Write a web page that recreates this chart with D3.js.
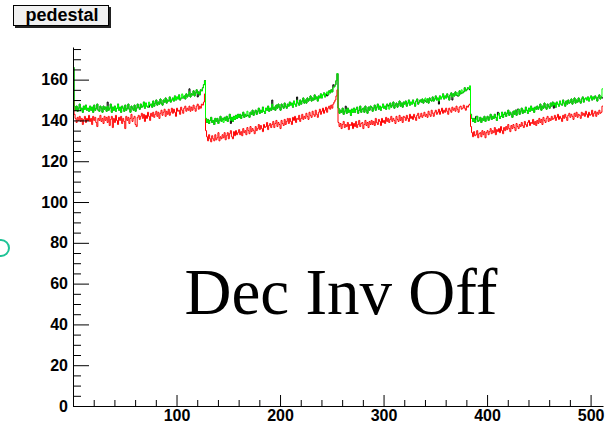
<!DOCTYPE html>
<html>
<head>
<meta charset="utf-8">
<script src="https://cdn.jsdelivr.net/npm/d3@7"></script>
<style>
  html, body { margin: 0; padding: 0; background: #fff; }
  svg { display: block; }
</style>
</head>
<body>
<svg id="chart" width="606" height="427"></svg>
<script>
// chart data (512 bins, 4 blocks of 128)
const title = 'pedestal'
const note = 'Dec Inv Off'
const nBins = 512
const yTicks = [0, 20, 40, 60, 80, 100, 120, 140, 160]
const xTicks = [100, 200, 300, 400, 500]

const green = [
  166,147,145,147,144.5,146,148,145,146,144,147,145.5,147.5,145,146,144.5,
  147,145,146.5,144,147.5,145,146,148,145,144.5,147,146,144,147,145.5,146.5,
  144.5,147,145,146,148,144,146.5,145,147,144.5,146,148,145,146.5,144,147,
  146,144.5,147.5,145,146,148,145.5,144,147,146,145,147.5,144.5,146,148,146.5,
  145.5,148,146.5,147,149,146,148.5,147,146.5,149,147.5,148,146.5,149.5,147,148.5,
  150,147.5,149,148,150.5,148.5,147.5,150,149,151,148.5,150,149.5,151.5,149,150,
  151,149.5,152,150,151.5,150.5,152.5,150,151,153,151,152,150.5,153,151.5,152.5,
  154,151.5,153,152.5,154.5,152,153.5,155,153,154,152.5,155,154.5,156,157.5,159.5,
  141,139,140.5,138.5,140,141.5,139,140,138,141,139.5,141,138.5,140,142,139.5,
  141,139,141.5,140,142,139.5,141,143,140,141.5,139.5,142,140.5,142.5,141,143,
  141.5,143,141,142.5,144,141.5,143,142,144.5,142.5,141.5,144,143,145,142.5,144,
  145,143,144.5,146,143.5,145,144,146.5,144.5,143.5,146,145,147,144.5,146,145,
  148,145.5,146.5,145,147.5,146,148,146.5,145,148,147,146,148.5,147,146,148,
  147,149,147.5,148.5,146.5,149.5,148,147,150,148.5,147.5,150,148,149.5,151,148.5,
  150,148.5,151,149.5,150.5,152,149.5,151,150,152.5,150.5,151.5,149.5,152,151,153,
  151,152.5,153.5,151.5,153,154,152.5,154.5,153.5,155,154,156,156.5,157.5,159.5,163,
  146,143.5,145,144,146,143,144.5,145.5,143.5,146,144,145,142.5,145.5,144,146,
  144,145.5,146.5,143.5,145,147,144,145.5,146,144,147,145,143.5,146.5,145,147,
  146.5,144.5,146,147.5,145,146.5,148,145.5,147,145,146.5,148,146,147,145.5,148,
  147,145.5,148.5,146.5,147.5,149,146,147.5,148.5,146.5,148,149.5,147,148.5,146.5,149,
  148,149.5,147,148.5,150,147.5,149,148,150,148.5,147,149.5,150.5,148,149,150,
  149,150.5,148.5,150,151,149,150.5,148.5,151,150,149.5,151.5,149.5,150.5,152,150,
  151,149.5,152,150.5,151.5,153,150.5,152,151,153,151.5,150,152.5,153.5,151.5,153,
  152,154,152.5,153.5,152,154.5,153,155,153.5,154,156,154.5,155,156,155.5,157,
  143,141,139.5,141,139,140.5,142,139.5,140,141.5,139,141,140,142,139.5,141,
  142,140,141.5,143,140.5,142,141,143,141.5,140,142.5,143.5,141,142,144,141.5,
  143,144,142,143.5,145,142.5,144,143,141.5,144.5,143,145,142.5,144,145.5,143,
  144.5,146,143.5,145,144,146.5,145,143.5,146,144.5,147,145,146,144,146.5,145.5,
  147,145.5,146.5,148,145,147,146,148.5,146.5,145.5,148,147,146,148.5,147,149,
  147.5,148.5,146.5,149,148,147,149.5,148,147.5,150,148.5,147,149.5,148,150,148.5,
  149,150.5,148,149.5,151,148.5,150,149,151,149.5,148.5,150.5,151.5,149,150.5,151,
  150,151.5,149.5,151,152,150,151.5,150.5,152,151,149.5,151.5,152.5,150.5,151.5,155.5
]

const red = [
  150,143,141,139,141.5,140,142,139.5,141,138,140.5,142,139,141,140,142.5,
  139.5,141,138,142,140,141.5,139,137,141,140,142.5,139.5,141,138.5,142,140,
  141.5,139,142,137.5,140.5,142,136.5,141,139,142.5,140,138,141.5,140,142,138.5,
  141,139.5,136,142,140,141.5,138.5,141,143,139.5,141,142,138,137,141.5,142.5,
  140.5,142,143.5,141,143,139.5,142.5,141,144,142,140,143.5,142,144,141.5,143,
  144.5,142,144,141,143.5,145,142.5,144,145.5,142,144.5,143,145.5,142.5,144,146,
  143.5,145.5,144,142,146,144.5,145,143,146.5,145,143.5,146,147,144.5,146,145,
  147,144.5,146.5,145,147.5,146,144.5,147,148,145.5,147,146,148,147.5,149,153,
  135,132,130,133,131,129.5,132.5,131,130,133,130.5,131.5,134,130,132,131,
  133,131.5,134,130.5,132.5,134,131,133.5,135,132,131,134.5,132.5,135,133,134,
  135.5,133,134.5,132.5,136,134,135,133,136.5,135,133.5,137,134.5,136,135,133.5,
  137,135,136,138,135.5,137.5,136,134.5,138,136.5,137,139,135.5,137.5,138.5,136.5,
  138,139.5,136.5,138.5,140,137,139,138,136,140,138.5,137.5,140.5,138,139.5,141,
  138.5,141,139.5,138,141.5,140,142,139,141,140.5,142.5,139.5,141,143,140.5,142,
  141,143.5,142,140.5,144,142.5,141.5,144.5,143,142,145,143,141.5,144,145.5,143,
  144.5,146,143.5,145,146.5,144,146,147,145.5,147.5,146,148,149,150,152,155,
  139,137,138.5,136,138,139.5,136.5,138,137,139,135.5,138,137.5,139,136,138.5,
  137,139.5,136.5,138,140,137,138.5,139,136,138,140,137.5,139,136.5,139.5,138,
  140,138,139.5,137.5,141,139,138,140.5,139.5,137.5,141,139,140,138.5,141.5,139.5,
  141,139,140.5,142,139.5,141,140,138.5,142,140.5,139.5,142.5,140,141.5,139,142,
  141.5,140,142.5,141,139.5,143,141,142,140.5,143,141.5,140,142.5,143.5,141,142,
  143.5,141.5,142.5,144,142,143,141.5,144.5,143,142,145,143.5,142,144,145,143,
  144,145.5,143,144.5,146,143.5,145,144,146,144.5,143,146,145,144,146.5,145,
  146,144.5,147,145.5,144,146.5,147,145.5,146,147.5,146,145,147,146.5,147.5,148,
  137,134,132,134.5,132.5,133,135,131.5,133.5,134,132,135,133,134.5,131.5,134,
  135,133,134.5,136,133.5,135,134,136.5,133,135.5,134.5,136,134,137,135,133.5,
  136.5,135,137,135.5,138,136,134.5,137.5,136,138,136.5,135,138.5,137,136,138,
  137,139,137.5,136.5,139.5,138,137,139,140,137.5,139,138.5,140.5,138,139.5,137.5,
  140,138.5,141,139,140.5,138,141.5,140,139,141,142,139.5,141,140,142,140.5,
  141,142.5,140,141.5,143,140.5,142,141,139.5,142.5,141,143,141.5,140,142.5,143.5,
  141.5,143,142,140.5,143.5,142,144,141.5,143,142.5,141,144,142.5,143.5,142,144.5,
  143,141.5,144,142.5,143,145,142,143.5,144.5,142,144,143,145,143.5,144,147
]

const black = [
  166,147,145,147,144.5,146,148,145,146,144,147,145.5,147.5,145,146,144.5,
  147,145,146.5,144,147.5,145,146,148,145,144.5,147,146,144,147,145.5,146.5,
  144.5,149,145,146,148,144,146.5,145,147,144.5,146,148,145,146.5,144,147,
  146,144.5,147.5,145,146,148,145.5,144,147,146,145,147.5,144.5,146,148,146.5,
  145.5,148,146.5,147,149,146,148.5,147,146.5,146.5,147.5,148,146.5,149.5,147,148.5,
  150,147.5,149,148,150.5,148.5,147.5,150,149,151,148.5,150,149.5,151.5,149,150,
  151,149.5,152,150,151.5,150.5,152.5,150,151,151,151,152,150.5,153,151.5,152.5,
  155.5,151.5,153,152.5,154.5,152,153.5,155,151.5,154,152.5,155,154.5,156,157.5,159.5,
  141,139,140.5,138.5,140,141.5,139,140,138,141,139.5,141,138.5,140,142,139.5,
  141,140.5,141.5,140,142,139.5,141,143,138.5,141.5,139.5,142,140.5,142.5,141,143,
  141.5,143,141,142.5,144,141.5,143,142,142.5,142.5,141.5,144,143,145,142.5,144,
  145,143,144.5,146,143.5,145,144,146.5,144.5,143.5,146,145,147,144.5,146,145,
  150,145.5,146.5,145,147.5,146,148,146.5,145,148,147,146,148.5,147,146,148,
  147,149,147.5,148.5,146.5,149.5,148,147,151.5,148.5,147.5,150,148,149.5,151,148.5,
  150,148.5,151,149.5,150.5,152,149.5,151,150,152.5,150.5,151.5,149.5,152,151,153,
  151,152.5,153.5,151.5,153,152,152.5,154.5,153.5,155,154,157.5,156.5,157.5,159.5,163,
  146,143.5,145,144,146,143,144.5,147,143.5,146,144,145,142.5,145.5,144,146,
  144,145.5,146.5,143.5,145,147,144,145.5,146,144,147,145,143.5,146.5,145,147,
  146.5,144.5,146,147.5,145,146.5,148,145.5,147,145,146.5,148,146,147,145.5,148,
  147,147.5,148.5,146.5,147.5,149,146,147.5,148.5,146.5,148,149.5,147,148.5,146.5,149,
  148,149.5,147,148.5,150,147.5,149,148,150,148.5,147,149.5,150.5,148,149,150,
  149,150.5,148.5,150,149.5,149,150.5,148.5,151,150,149.5,151.5,149.5,150.5,152,150,
  151,148,152,150.5,151.5,153,150.5,152,151,153,151.5,150,152.5,153.5,150,153,
  152,154,152.5,152,152,154.5,153,153.5,153.5,154,156,154.5,155,156,155.5,155,
  143,141,139.5,141,139,142,142,139.5,140,141.5,139,141,140,142,139.5,141,
  142,140,141.5,143,140.5,142,141,143,141.5,140,144,143.5,141,142,144,141.5,
  143,144,142,143.5,145,142.5,144,143,141.5,144.5,143,145,142.5,145.5,145.5,143,
  144.5,146,143.5,145,144,146.5,145,143.5,146,144.5,147,145,146,144,146.5,145.5,
  147,145.5,146.5,148,145,147,146,148.5,146.5,145.5,148,147,146,148.5,147,149,
  146,148.5,146.5,149,148,147,149.5,148,147.5,150,148.5,147,149.5,148,150,148.5,
  149,150.5,148,149.5,151,148.5,150,149,151,149.5,148.5,150.5,151.5,149,150.5,151,
  150,151.5,149.5,151,152,150,151.5,150.5,152,151,149.5,151.5,152.5,150.5,151.5,151
]

const width = 606
const height = 427
const margin = { top: 47, right: 3, bottom: 21, left: 73 }
const labelFont = '"Liberation Sans", Arial, Helvetica, sans-serif'

const svg = d3.select('#chart')
svg.append('rect').attr('width', width).attr('height', height).attr('fill', '#fff')

const x = d3.scaleLinear([0, nBins], [margin.left, width - margin.right])
const y = d3.scaleLinear([0, 176], [height - margin.bottom, margin.top])

// histogram outlines (stepped)
const line = d3.line()
  .x((d) => x(d[0]))
  .y((d) => y(d[1]))
  .curve(d3.curveStepAfter)
const steps = (vals) =>
  vals.map((v, i) => [i, v]).concat([[vals.length, vals[vals.length - 1]]])

const series = [
  { name: 'black', values: black, color: '#000' },
  { name: 'red', values: red, color: '#ff0000' },
  { name: 'green', values: green, color: '#00ff00' },
]

svg.append('g')
  .attr('id', 'lines')
  .attr('fill', 'none')
  .selectAll('path')
  .data(series)
  .join('path')
  .attr('d', (d) => line(steps(d.values)))
  .attr('stroke', (d) => d.color)
  .attr('stroke-width', 1)

// y axis, ticks pointing inwards
const yMinor = d3.range(0, 176, 5).filter((v) => v % 20 !== 0)
svg.append('g')
  .attr('transform', `translate(${margin.left},0)`)
  .call(d3.axisLeft(y).tickValues(yMinor).tickSize(-8).tickFormat(''))
  .call((g) => g.select('.domain').remove())
svg.append('g')
  .attr('transform', `translate(${margin.left},0)`)
  .call(d3.axisLeft(y).tickValues(yTicks).tickSizeInner(-16).tickSizeOuter(0).tickPadding(5))
  .call((g) => g.selectAll('text').attr('font-family', labelFont).attr('font-weight', 'bold').attr('font-size', 16).attr('fill', '#000'))

// x axis
const xMinor = d3.range(20, nBins, 20).filter((v) => v % 100 !== 0)
svg.append('g')
  .attr('transform', `translate(0,${height - margin.bottom})`)
  .call(d3.axisBottom(x).tickValues(xMinor).tickSize(-6).tickFormat(''))
  .call((g) => g.select('.domain').remove())
svg.append('g')
  .attr('transform', `translate(0,${height - margin.bottom})`)
  .call(d3.axisBottom(x).tickValues(xTicks).tickSizeInner(-11).tickSizeOuter(0).tickPadding(4))
  .call((g) => g.selectAll('text').attr('font-family', labelFont).attr('font-weight', 'bold').attr('font-size', 16).attr('fill', '#000'))

// title box with shadow
svg.append('rect').attr('x', 15).attr('y', 7).attr('width', 96).attr('height', 21).attr('fill', '#222')
svg.append('rect').attr('x', 13.5).attr('y', 5.5).attr('width', 95).attr('height', 20)
  .attr('fill', '#f0f0f0').attr('stroke', '#000').attr('stroke-width', 1)
svg.append('text')
  .attr('x', 62).attr('y', 21)
  .attr('text-anchor', 'middle')
  .attr('font-family', labelFont).attr('font-weight', 'bold').attr('font-size', 18)
  .text(title)

// annotation
svg.append('text')
  .attr('x', 341).attr('y', 314)
  .attr('text-anchor', 'middle')
  .attr('font-family', '"Liberation Serif", "Times New Roman", serif')
  .attr('font-size', 65)
  .text(note)

// stray marker at the left edge
svg.append('circle')
  .attr('cx', 1).attr('cy', 248).attr('r', 8)
  .attr('fill', 'none').attr('stroke', '#1ec396').attr('stroke-width', 2)
</script>
</body>
</html>
